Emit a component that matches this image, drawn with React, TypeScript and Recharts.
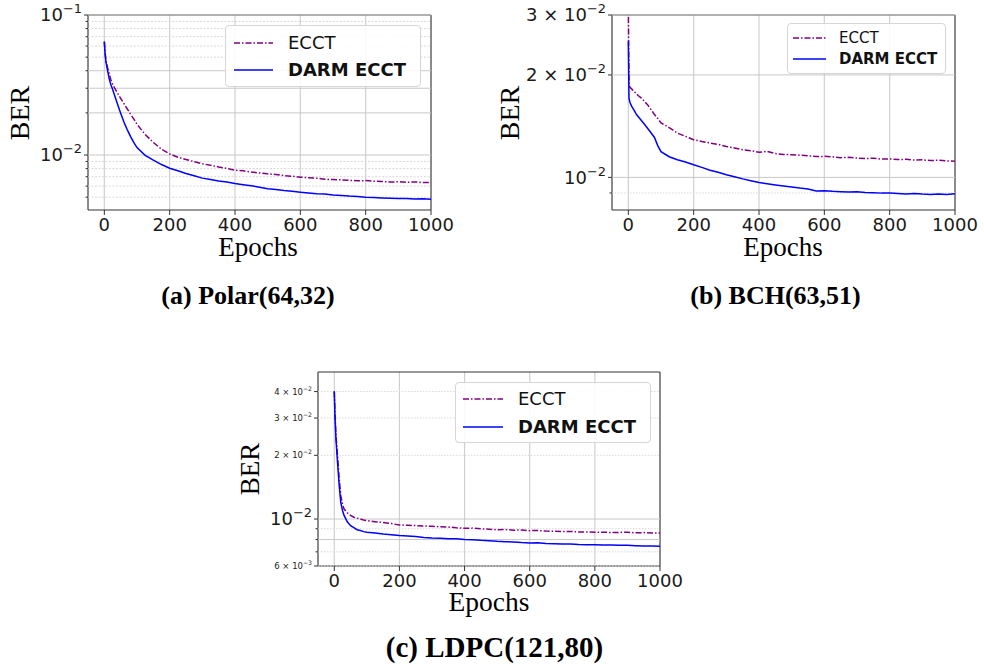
import React from 'react';
import {
  LineChart,
  Line,
  XAxis,
  YAxis,
  CartesianGrid,
  ReferenceLine,
  ReferenceArea,
} from 'recharts';

// epochs sampled along the training curves
const epochs = [
  0, 2, 5, 10, 15, 20, 25, 30, 40, 50, 60, 70, 80, 90,
  100, 125, 150, 175, 200, 225, 250, 275, 300, 325, 350, 375, 400, 425, 450, 475,
  500, 525, 550, 575, 600, 625, 650, 675, 700, 725, 750, 775, 800, 825, 850, 875,
  900, 925, 950, 975, 1000,
];

// (a) Polar(64,32)
const polarEcct = [
  0.0645, 0.055, 0.047, 0.042, 0.038, 0.0345, 0.0322, 0.0305, 0.0278, 0.0254, 0.0233, 0.0214, 0.0196, 0.0181,
  0.0166, 0.014, 0.0123, 0.011, 0.0102, 0.00965, 0.0093, 0.00895, 0.00866, 0.00845, 0.00822, 0.00803, 0.00778,
  0.00771, 0.00756, 0.00745, 0.00734, 0.00727, 0.00712, 0.00706, 0.00694, 0.00689, 0.00683, 0.00671, 0.00668,
  0.00665, 0.0066, 0.00654, 0.00657, 0.0065, 0.00648, 0.00641, 0.00645, 0.00638, 0.00643, 0.00636, 0.00638,
];
const polarDarm = [
  0.0645, 0.054, 0.046, 0.04, 0.035, 0.0318, 0.0296, 0.0273, 0.0232, 0.0199, 0.0172, 0.0152, 0.0136, 0.0123,
  0.0113, 0.00995, 0.0092, 0.00855, 0.00805, 0.00772, 0.00738, 0.00712, 0.00684, 0.00669, 0.00652, 0.00641,
  0.00626, 0.00614, 0.00603, 0.00589, 0.00574, 0.00567, 0.00558, 0.00551, 0.00543, 0.00536, 0.00529, 0.00526,
  0.00518, 0.00515, 0.00509, 0.00506, 0.00499, 0.00497, 0.00494, 0.00491, 0.00489, 0.0049, 0.00486, 0.00488,
  0.00484,
];

// (b) BCH(63,51)
const bchEcct = [
  0.032, 0.0187, 0.0184, 0.0182, 0.018, 0.0178, 0.0176, 0.0174, 0.0171, 0.0167, 0.0163, 0.0158, 0.0153, 0.0149,
  0.01445, 0.014, 0.0135, 0.0132, 0.0129, 0.01275, 0.01262, 0.0125, 0.01233, 0.0122, 0.01205, 0.01198, 0.01185,
  0.01192, 0.01175, 0.01168, 0.01166, 0.01162, 0.01158, 0.01151, 0.01153, 0.01149, 0.01143, 0.01145, 0.0114,
  0.01136, 0.01138, 0.01132, 0.01133, 0.01128, 0.0113, 0.01124, 0.01126, 0.01121, 0.01123, 0.01118, 0.01115,
];
const bchDarm = [
  0.0251, 0.0171, 0.0166, 0.0162, 0.0159, 0.0156, 0.0153, 0.0151, 0.0147, 0.0143, 0.0139, 0.0135, 0.0131, 0.0124,
  0.0119, 0.0115, 0.01127, 0.0111, 0.01089, 0.0107, 0.01049, 0.01035, 0.01018, 0.01004, 0.0099, 0.00978, 0.00966,
  0.00958, 0.0095, 0.00943, 0.00937, 0.0093, 0.00925, 0.00912, 0.00914, 0.0091, 0.00908, 0.00906, 0.00908,
  0.00903, 0.00902, 0.00899, 0.009, 0.00896, 0.00893, 0.00897, 0.00893, 0.00891, 0.00894, 0.0089, 0.00895,
];

// (c) LDPC(121,80)
const ldpcEcct = [
  0.0401, 0.032, 0.025, 0.0199, 0.0155, 0.0129, 0.0118, 0.01115, 0.0107, 0.0104, 0.0102, 0.0101, 0.01, 0.0099,
  0.00982, 0.00972, 0.00962, 0.00952, 0.00937, 0.00935, 0.00931, 0.00928, 0.00924, 0.00919, 0.00917, 0.00909,
  0.00904, 0.00906, 0.00899, 0.00896, 0.0089, 0.00892, 0.00886, 0.00887, 0.00881, 0.00883, 0.00877, 0.00875,
  0.00872, 0.00874, 0.00868, 0.00869, 0.00865, 0.00867, 0.00863, 0.00865, 0.00865, 0.00861, 0.00863, 0.00858,
  0.00859,
];
const ldpcDarm = [
  0.0401, 0.031, 0.024, 0.0185, 0.0145, 0.01197, 0.011, 0.0104, 0.0097, 0.0093, 0.0091, 0.0089, 0.00882, 0.00872,
  0.00866, 0.00858, 0.00849, 0.00842, 0.00835, 0.00831, 0.00826, 0.00819, 0.00814, 0.00812, 0.00808, 0.00806,
  0.008, 0.00798, 0.00793, 0.0079, 0.00785, 0.00782, 0.00779, 0.00774, 0.00771, 0.00772, 0.00767, 0.00764,
  0.00762, 0.00763, 0.00759, 0.00757, 0.00757, 0.00754, 0.00753, 0.00751, 0.00751, 0.00748, 0.00746, 0.00745,
  0.00743,
];

const xTicks = [0, 200, 400, 600, 800, 1000];

const polarTicks = [0.005, 0.006, 0.007, 0.008, 0.009, 0.01, 0.02, 0.03, 0.04, 0.05, 0.06, 0.07, 0.08, 0.09, 0.1];
const polarLabels = [0.01, 0.1];
const bchTicks = [0.009, 0.01, 0.02, 0.03];
const bchLabels = [0.01, 0.02, 0.03];
const ldpcTicks = [0.006, 0.007, 0.008, 0.009, 0.01, 0.02, 0.03, 0.04];
const ldpcLabels = [0.01];
const ldpcSmallLabels = [0.006, 0.02, 0.03, 0.04];

const SANS = '"DejaVu Sans", sans-serif';
const SERIF = '"Liberation Serif", "Times New Roman", serif';
const ECCT_COLOR = '#800080';
const DARM_COLOR = '#0000ff';
const ECCT_DASH = '6 2 1.5 2';

const makeData = (ecct: number[], darm: number[]) =>
  epochs.map((epoch, i) => ({ epoch, ecct: ecct[i], darm: darm[i] }));

const hasValue = (arr: number[], v: number) => arr.some((a) => Math.abs(a - v) / a < 1e-6);

const XTick = (props: any) => {
  const { x, y, payload } = props;
  return (
    <text x={x} y={y + 1.5} dy='0.71em' textAnchor='middle' fontSize={18} fontFamily={SANS} fill='#1a1a1a'>
      {payload.value}
    </text>
  );
};

const YTick = (props: any) => {
  const { x, y, payload, big, small, smallFont } = props;
  const v = payload.value as number;
  const isBig = hasValue(big, v);
  const isSmall = hasValue(small, v);
  const len = isBig || isSmall ? 4 : 2.5;
  let label = null;
  if (isBig || isSmall) {
    const fs = isBig ? 18 : smallFont;
    const exp = Math.floor(Math.log10(v) + 1e-9);
    const m = Math.round(v / Math.pow(10, exp));
    label = (
      <text x={x - 6} y={y} dy='0.35em' textAnchor='end' fontSize={fs} fontFamily={SANS} fill='#1a1a1a'>
        {m !== 1 ? `${m} \u00d7 ` : ''}10
        <tspan dy={-fs * 0.45} fontSize={fs * 0.72}>
          {'\u2212' + Math.abs(exp)}
        </tspan>
      </text>
    );
  }
  return (
    <g>
      <line x1={x - len} x2={x} y1={y} y2={y} stroke='#333' />
      {label}
    </g>
  );
};

interface LegendSpec {
  left: number;
  top: number;
  width: number;
  height: number;
  fontSize: number;
  rows: [number, number];
  lineX: number;
  lineLen: number;
  textX: number;
}

const LegendBox: React.FC<LegendSpec> = ({ left, top, width, height, fontSize, rows, lineX, lineLen, textX }) => {
  const items = [
    { name: 'ECCT', color: ECCT_COLOR, dash: ECCT_DASH, bold: false },
    { name: 'DARM ECCT', color: DARM_COLOR, dash: undefined, bold: true },
  ];
  return (
    <div
      style={{
        position: 'absolute',
        left,
        top,
        width,
        height,
        boxSizing: 'border-box',
        border: '1px solid #d6d6d6',
        borderRadius: 4,
        background: 'rgba(255,255,255,0.88)',
      }}
    >
      {items.map((it, i) => (
        <React.Fragment key={it.name}>
          <svg
            width={lineLen}
            height={4}
            style={{ position: 'absolute', left: lineX, top: rows[i] - 2 }}
          >
            <line x1={0} x2={lineLen} y1={2} y2={2} stroke={it.color} strokeWidth={1.5} strokeDasharray={it.dash} />
          </svg>
          <span
            style={{
              position: 'absolute',
              left: textX,
              top: rows[i] - fontSize * 0.48,
              fontSize,
              lineHeight: 1,
              fontFamily: SANS,
              fontWeight: it.bold ? 'bold' : 'normal',
              whiteSpace: 'nowrap',
              color: '#111',
            }}
          >
            {it.name}
          </span>
        </React.Fragment>
      ))}
    </div>
  );
};

interface PanelProps {
  left: number;
  top: number;
  width: number;
  height: number;
  marginTop: number;
  yAxisWidth: number;
  ecct: number[];
  darm: number[];
  yDomain: [number, number];
  yTicks: number[];
  bigLabels: number[];
  smallLabels: number[];
  majorLines: number[];
  minorDash: string;
}

const Panel: React.FC<PanelProps> = (p) => {
  const data = makeData(p.ecct, p.darm);
  return (
    <div style={{ position: 'absolute', left: p.left, top: p.top }}>
      <LineChart
        width={p.width}
        height={p.height}
        data={data}
        margin={{ top: p.marginTop, right: 30, left: 0, bottom: 0 }}
      >
        <CartesianGrid horizontal={false} stroke='#d0d0d0' strokeWidth={1.2} />
        {p.yTicks.map((v) => (
          <ReferenceLine
            key={v}
            y={v}
            ifOverflow='visible'
            stroke={hasValue(p.majorLines, v) ? '#c8c8c8' : '#d8d8d8'}
            strokeWidth={1}
            strokeDasharray={hasValue(p.majorLines, v) ? undefined : p.minorDash}
          />
        ))}
        <XAxis
          type='number'
          dataKey='epoch'
          domain={[-50, 1000]}
          ticks={xTicks}
          interval={0}
          allowDataOverflow
          height={35}
          tickSize={5}
          tickLine={{ stroke: '#333' }}
          axisLine={false}
          tick={<XTick />}
        />
        <YAxis
          type='number'
          scale='log'
          domain={p.yDomain}
          allowDataOverflow
          ticks={p.yTicks}
          interval={0}
          width={p.yAxisWidth}
          tickSize={0}
          tickMargin={0}
          tickLine={false}
          axisLine={false}
          tick={(tp: any) => (
            <YTick {...tp} big={p.bigLabels} small={p.smallLabels} smallFont={8.5} />
          )}
        />
        <Line
          type='linear'
          dataKey='ecct'
          stroke={ECCT_COLOR}
          strokeWidth={1.5}
          strokeDasharray={ECCT_DASH}
          dot={false}
          isAnimationActive={false}
        />
        <Line
          type='linear'
          dataKey='darm'
          stroke={DARM_COLOR}
          strokeWidth={1.5}
          dot={false}
          isAnimationActive={false}
        />
        <ReferenceArea
          x1={-50}
          x2={1000}
          y1={p.yDomain[0]}
          y2={p.yDomain[1]}
          ifOverflow='visible'
          fill='none'
          stroke='#333'
          strokeWidth={1}
        />
      </LineChart>
    </div>
  );
};

const Text: React.FC<{
  x: number;
  top: number;
  size: number;
  bold?: boolean;
  rotate?: boolean;
  lh?: number;
  children: React.ReactNode;
}> = ({ x, top, size, bold, rotate, lh = 1, children }) => (
  <div
    style={{
      position: 'absolute',
      left: x,
      top,
      transform: rotate ? 'translate(-50%, -50%) rotate(-90deg)' : 'translateX(-50%)',
      fontSize: size,
      lineHeight: lh,
      fontFamily: SERIF,
      fontWeight: bold ? 'bold' : 'normal',
      whiteSpace: 'nowrap',
      color: '#000',
    }}
  >
    {children}
  </div>
);

const App: React.FC = () => {
  return (
    <div
      style={{
        position: 'absolute',
        left: 0,
        top: 0,
        width: 984,
        height: 671,
        background: '#fff',
        overflow: 'hidden',
      }}
    >
      <Panel
        left={0}
        top={0}
        width={461}
        height={245}
        marginTop={15}
        yAxisWidth={88}
        ecct={polarEcct}
        darm={polarDarm}
        yDomain={[0.00405, 0.1]}
        yTicks={polarTicks}
        bigLabels={polarLabels}
        smallLabels={[]}
        majorLines={[0.01, 0.1, 0.02, 0.03, 0.04]}
        minorDash='2 1.5'
      />
      <Panel
        left={500}
        top={0}
        width={485}
        height={245}
        marginTop={15}
        yAxisWidth={112}
        ecct={bchEcct}
        darm={bchDarm}
        yDomain={[0.00802, 0.03]}
        yTicks={bchTicks}
        bigLabels={bchLabels}
        smallLabels={[]}
        majorLines={[0.01, 0.02, 0.03]}
        minorDash='1.5 1.5'
      />
      <Panel
        left={230}
        top={360}
        width={460}
        height={241}
        marginTop={12}
        yAxisWidth={88}
        ecct={ldpcEcct}
        darm={ldpcDarm}
        yDomain={[0.006, 0.0495]}
        yTicks={ldpcTicks}
        bigLabels={ldpcLabels}
        smallLabels={ldpcSmallLabels}
        majorLines={[0.01, 0.008]}
        minorDash='1.5 1.5'
      />

      <LegendBox left={225} top={25} width={196} height={62} fontSize={18} rows={[17, 44]} lineX={8} lineLen={39} textX={62} />
      <LegendBox left={787} top={23} width={159} height={51} fontSize={15} rows={[14, 35]} lineX={5} lineLen={33} textX={51} />
      <LegendBox left={455} top={382} width={196} height={61} fontSize={18} rows={[16, 44]} lineX={7} lineLen={40} textX={62} />

      <Text x={20} top={113} size={28} rotate>BER</Text>
      <Text x={510} top={113} size={28} rotate>BER</Text>
      <Text x={250} top={469} size={27} rotate>BER</Text>

      <Text x={258} top={238} size={27} lh={0.7}>Epochs</Text>
      <Text x={783} top={238} size={27} lh={0.7}>Epochs</Text>
      <Text x={489} top={591.6} size={27.5} lh={0.7}>Epochs</Text>

      <Text x={248} top={282.5} size={26} bold>(a) Polar(64,32)</Text>
      <Text x={775.5} top={282.5} size={26} bold>(b) BCH(63,51)</Text>
      <Text x={494.5} top={633} size={29} bold>(c) LDPC(121,80)</Text>
    </div>
  );
};

export default App;
